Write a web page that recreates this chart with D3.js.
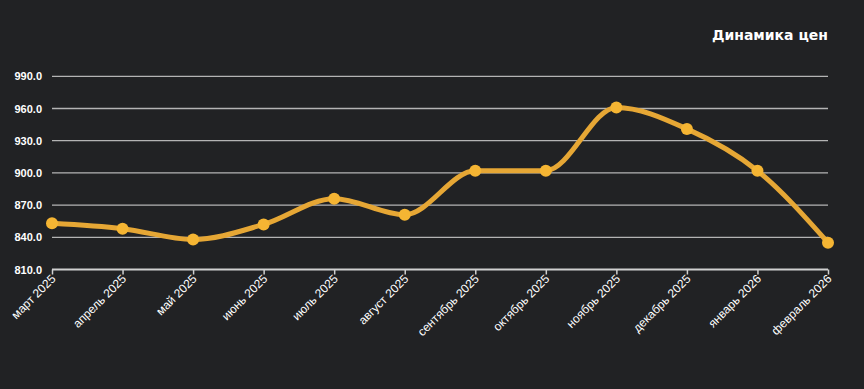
<!DOCTYPE html>
<html><head><meta charset="utf-8">
<script src="https://cdn.jsdelivr.net/npm/d3@7"></script>
<style>
html,body{margin:0;padding:0;background:#212224;}
svg{display:block;}
text{font-family:"Liberation Sans",Arial,sans-serif;}
</style></head>
<body>
<div id="chart"></div>
<script>
const categories = ["март 2025","апрель 2025","май 2025","июнь 2025","июль 2025","август 2025","сентябрь 2025","октябрь 2025","ноябрь 2025","декабрь 2025","январь 2026","февраль 2026"];
const prices = [853, 848, 838, 852, 876, 861, 902, 902, 961, 941, 902, 835];
const yTicks = [810, 840, 870, 900, 930, 960, 990];
const title = "Динамика цен";

const W = 864, H = 389;
const svg = d3.select("#chart").append("svg").attr("width", W).attr("height", H);
svg.append("rect").attr("width", W).attr("height", H).attr("fill", "#212224");

const x = d3.scalePoint().domain(categories).range([52, 828]);
const y = d3.scaleLinear().domain([810, 990]).range([269.5, 76.3]);

// gridlines
svg.append("g").selectAll("line").data(yTicks.slice(1)).join("line")
  .attr("x1", 52).attr("x2", 828)
  .attr("y1", d => y(d)).attr("y2", d => y(d))
  .attr("stroke", "#b4b4b4").attr("stroke-width", 1.3);

// y labels
svg.append("g").selectAll("text").data(yTicks).join("text")
  .attr("x", 42).attr("y", d => y(d) + 4)
  .attr("text-anchor", "end").attr("fill", "#ffffff")
  .attr("font-size", 11).attr("font-weight", "bold")
  .text(d => d.toFixed(1));

// x axis
const xAxis = svg.append("g").attr("transform", "translate(0,269.5)")
  .call(d3.axisBottom(x).tickSize(5).tickSizeOuter(0));
xAxis.select(".domain").attr("stroke", "#d0d0d0").attr("stroke-width", 2).attr("d", "M52,0H828");
xAxis.selectAll(".tick line").attr("stroke", "#d0d0d0").attr("stroke-width", 1.5);
xAxis.selectAll(".tick text")
  .attr("fill", "#ffffff").attr("font-size", 12)
  .attr("text-anchor", "end").attr("dy", 0).attr("y", 0)
  .attr("transform", "translate(4,10) rotate(-45)");

// line
const line = d3.line().x((d, i) => x(categories[i])).y(d => y(d)).curve(d3.curveMonotoneX);
svg.append("path").datum(prices).attr("d", line)
  .attr("fill", "none").attr("stroke", "#e6a735").attr("stroke-width", 5)
  .attr("stroke-linecap", "round").attr("stroke-linejoin", "round");

svg.append("g").selectAll("circle").data(prices).join("circle")
  .attr("cx", (d, i) => x(categories[i])).attr("cy", d => y(d))
  .attr("r", 6).attr("fill", "#f5b533");

svg.append("text").attr("x", 828).attr("y", 40)
  .attr("text-anchor", "end").attr("fill", "#ffffff")
  .style("font-family", "'DejaVu Sans', Verdana, sans-serif")
  .attr("font-size", 14).attr("font-weight", "bold").text(title);
</script>
</body></html>
